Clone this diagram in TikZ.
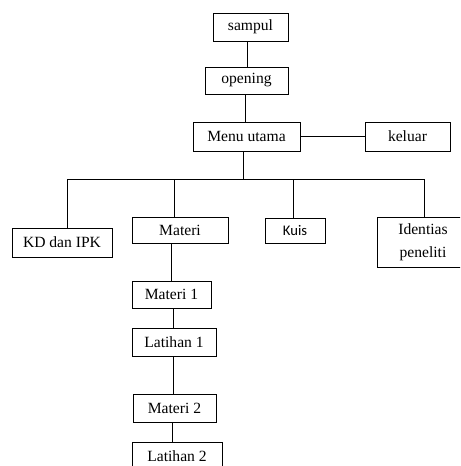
\documentclass[tikz,border=0pt]{standalone}
\usepackage{fontspec}
\setmainfont{Liberation Serif}
\newfontfamily\kuisfont{Carlito}
\usetikzlibrary{calc}

\tikzset{
  box/.style={draw, line width=0.6pt, inner sep=0pt, align=center,
    font=\fontsize{11.7}{13}\selectfont},
  wh/.style 2 args={minimum width=#1*0.75pt, minimum height=#2*0.75pt},
  link/.style={line width=0.6pt}
}

\begin{document}
\begin{tikzpicture}[x=0.75pt, y=-0.75pt]
    \useasboundingbox (0,0) rectangle (460,466);
    \clip (0,0) rectangle (460,466);
    \begin{scope}
      % top column
      \node[box, wh={75}{28}] (sampul) at (250.5, 27) {sampul};
      \node[box, wh={83}{27}] (opening) at (246.5, 80.5) {opening};
      \node[box, wh={107}{29}] (menu) at (246.5, 136.5) {Menu utama};
      \node[box, wh={85}{29}] (keluar) at (407.5, 136.5) {keluar};

      % menu items
      \node[box, wh={100}{29}] (kd) at (62, 242.5) {KD dan IPK};
      \node[box, wh={96}{26}] (materi) at (180, 230) {Materi};
      \node[box, wh={60}{25}, font=\kuisfont\fontsize{11}{12}\selectfont] (kuis) at (295, 230.5) {Kuis};
      \node[box, wh={92}{50}, font=\fontsize{11.7}{17.5}\selectfont] (ident) at (423, 242) {Identias\\peneliti};

      % materi chain
      \node[box, wh={79}{27}] (materi1) at (171.5, 294.5) {Materi 1};
      \node[box, wh={84}{28}] (latihan1) at (174, 342) {Latihan 1};
      \node[box, wh={83}{28}] (materi2) at (174.5, 408) {Materi 2};
      \node[box, wh={90}{28}] (latihan2) at (177, 456) {Latihan 2};

      \coordinate (bus) at (243, 179);

      \draw[link] ($(sampul.south)+(-3.5,0)$) -- ($(opening.north)+(0.5,0)$);
      \draw[link] ($(opening.south)+(-1.5,0)$) -- ($(menu.north)+(-1.5,0)$);
      \draw[link] (menu.east) -- (keluar.west);
      \draw[link] ($(menu.south)+(-3.5,0)$) -- (bus);

      \draw[link] ($(kd.north)+(5,0)$) |- (bus);
      \draw[link] ($(ident.north)+(1,0)$) |- (bus);
      \draw[link] ($(materi.north)+(-6,0)$) -- ($(materi.north |- bus)+(-6,0)$);
      \draw[link] ($(kuis.north)+(-2,0)$) -- ($(kuis.north |- bus)+(-2,0)$);

      \draw[link] (materi1.north) -- (materi1.north |- materi.south);
      \draw[link] ($(materi1.south)+(1.5,0)$) -- ($(latihan1.north)+(-1,0)$);
      \draw[link] ($(latihan1.south)+(-1,0)$) -- ($(materi2.north)+(-1.5,0)$);
      \draw[link] ($(materi2.south)+(-2.5,0)$) -- ($(latihan2.north)+(-5,0)$);
    \end{scope}
\end{tikzpicture}
\end{document}
